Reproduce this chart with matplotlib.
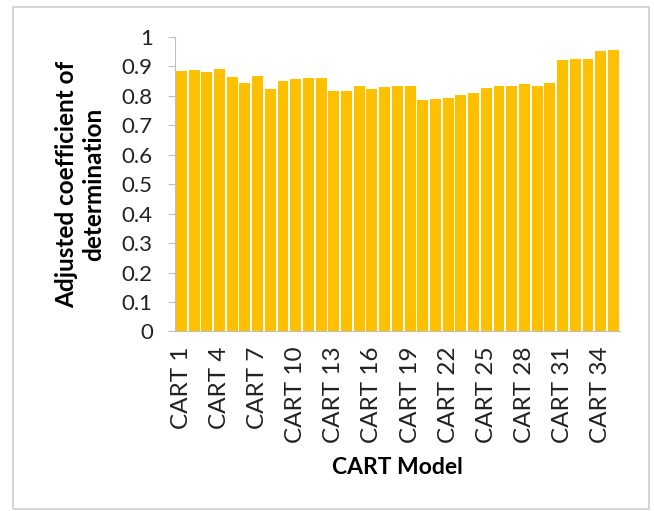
import numpy as np
import matplotlib.pyplot as plt
from matplotlib.patches import Rectangle

plt.rcParams['font.family'] = ['Lato', 'DejaVu Sans']

# CART models 1..35 and adjusted R^2
models = ['CART %d' % i for i in range(1, 36)]
adj_r2 = [0.883, 0.888, 0.880, 0.891, 0.864, 0.843, 0.869, 0.824, 0.850, 0.857,
          0.861, 0.861, 0.815, 0.818, 0.834, 0.825, 0.829, 0.834, 0.834, 0.787,
          0.788, 0.793, 0.802, 0.809, 0.828, 0.833, 0.833, 0.839, 0.835, 0.844,
          0.921, 0.926, 0.926, 0.951, 0.955]
yticks = [0, 0.1, 0.2, 0.3, 0.4, 0.5, 0.6, 0.7, 0.8, 0.9, 1]

fig = plt.figure(figsize=(6.54, 5.11), dpi=100)
ax = fig.add_axes([0.2676, 0.3513, 0.68, 0.5763])

x = np.arange(1, len(models) + 1)
ax.bar(x, adj_r2, width=0.86, color='#FFC000', zorder=2)

ax.set_xlim(0.5, len(models) + 0.5)
ax.set_ylim(0, 1)
ax.set_yticks(yticks)
ax.set_yticklabels(['0' if t == 0 else ('1' if t == 1 else '%.1f' % t) for t in yticks],
                   fontsize=16, color='#222222')
ax.set_xticks(x[::3])
ax.set_xticklabels(models[::3], rotation=90, fontsize=17.5, color='#222222')

for s in ['top', 'right']:
    ax.spines[s].set_visible(False)
ax.spines['left'].set_color('#BFBFBF')
ax.spines['bottom'].set_color('#BFBFBF')
ax.tick_params(axis='y', length=5, color='#BFBFBF', pad=11)
ax.tick_params(axis='x', length=0, pad=11)

ax.set_xlabel('CART Model', fontsize=16.5, fontweight='bold', labelpad=10)
ax.set_ylabel('Adjusted coefficient of\ndetermination', fontsize=17.5,
              fontweight='bold', labelpad=12, linespacing=1.2)

fig.add_artist(Rectangle((13 / 654, 2 / 511), 636 / 654, 502 / 511,
                         transform=fig.transFigure, fill=False,
                         edgecolor='#D0D0D0', linewidth=1.2))

fig.savefig('out.png', dpi=100)
